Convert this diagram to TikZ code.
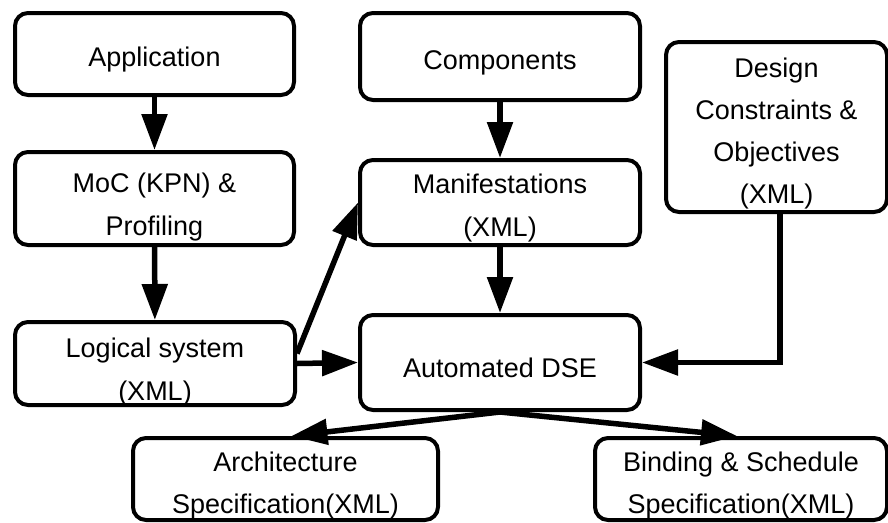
\documentclass[tikz,border=0pt]{standalone}
\usepackage{fontspec}
\setmainfont{Liberation Sans}
\usetikzlibrary{arrows.meta}
\tikzset{
  box/.style={draw=black, line width=4pt, rounded corners=13pt, inner sep=0pt, fill=white},
  txt/.style={align=center, inner sep=0pt, font=\fontsize{27}{43}\selectfont},
  flow/.style={line width=5.5pt, -{Triangle[length=36pt,width=25pt]}},
}
\begin{document}
\begin{tikzpicture}[x=1pt,y=-1pt]
\useasboundingbox (0,0) rectangle (888,522);
% boxes
\node[box, minimum width=279pt, minimum height=82pt] (app)  at (154.5,54) {};
\node[box, minimum width=279pt, minimum height=93pt] (moc)  at (154.5,198.5) {};
\node[box, minimum width=280pt, minimum height=83pt] (log)  at (155,363.5) {};
\node[box, minimum width=280pt, minimum height=87pt] (comp) at (500,56.5) {};
\node[box, minimum width=280pt, minimum height=85pt] (man)  at (500,202.5) {};
\node[box, minimum width=221pt, minimum height=170pt] (des) at (776.5,127) {};
\node[box, minimum width=280pt, minimum height=95pt] (dse)  at (500,362.5) {};
\node[box, minimum width=305pt, minimum height=82pt] (arch) at (285.5,479) {};
\node[box, minimum width=292pt, minimum height=82pt] (bind) at (741,479) {};
% labels
\node[txt] (app-t)  at (154.5,59.6) {Application};
\node[txt] (comp-t) at (500,62.6) {Components};
\node[txt] (moc-t)  at (154.5,206.6) {MoC (KPN) \&\\Profiling};
\node[txt] (man-t)  at (500,208.1) {Manifestations\\(XML)};
\node[txt, font=\fontsize{27}{42}\selectfont] (des-t) at (776.5,133.4)
  {Design\\Constraints \&\\Objectives\\(XML)};
\node[txt] (log-t)  at (155,371.6) {Logical system\\(XML)};
\node[txt] (dse-t)  at (500,368.2) {Automated DSE};
\node[txt, font=\fontsize{27}{42}\selectfont] (arch-t) at (285.5,485.5) {Architecture\\Specification(XML)};
\node[txt, font=\fontsize{27}{42}\selectfont] (bind-t) at (741,486) {Binding \& Schedule\\Specification(XML)};
% connectors
\draw[flow] (app) -- (moc);
\draw[flow] (moc) -- (log);
\draw[flow] (comp) -- (man);
\draw[flow] (man) -- (dse);
\draw[flow] (log.east) -- (dse.west);
\draw[flow] ([yshift=10pt]log.east) -- (man.west);
\draw[flow] ([xshift=3.5pt]des.south) |- (dse.east);
\draw[flow] (dse.south) -- ([xshift=6pt]arch.north);
\draw[flow] (dse.south) -- ([xshift=-4pt]bind.north);
\end{tikzpicture}
\end{document}
